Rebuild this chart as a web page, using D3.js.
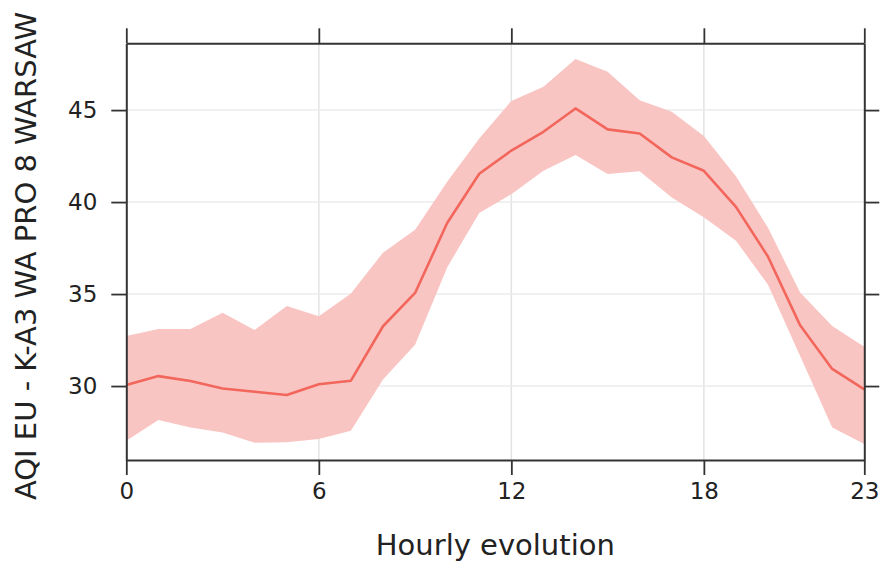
<!DOCTYPE html>
<html>
<head>
<meta charset="utf-8">
<script src="https://cdn.jsdelivr.net/npm/d3@7"></script>
<style>
  html, body { margin: 0; padding: 0; background: #fff; }
  svg { display: block; font-family: "DejaVu Sans", sans-serif; }
</style>
</head>
<body>
<svg id="chart" width="882" height="561"></svg>
<script>
const hours = d3.range(0, 24);
const meanValues = [30.05, 30.54, 30.27, 29.87, 29.69, 29.51, 30.1, 30.29, 33.25, 35.06,
                    38.86, 41.54, 42.8, 43.82, 45.09, 43.95, 43.73, 42.43, 41.7, 39.74,
                    37.03, 33.3, 30.93, 29.82];
const upperValues = [32.72, 33.1, 33.1, 33.98, 33.04, 34.35, 33.8, 35.03, 37.25, 38.5,
                     41.1, 43.46, 45.5, 46.27, 47.77, 47.08, 45.54, 44.91, 43.59, 41.4,
                     38.6, 35.08, 33.26, 32.14];
const lowerValues = [27.03, 28.15, 27.74, 27.47, 26.92, 26.94, 27.12, 27.57, 30.35, 32.25,
                     36.45, 39.41, 40.43, 41.7, 42.56, 41.52, 41.67, 40.25, 39.17, 37.9,
                     35.5, 31.63, 27.75, 26.85];
const xTicks = [0, 6, 12, 18, 23];
const yTicks = [30, 35, 40, 45];
const xTitle = "Hourly evolution";
const yTitle = "AQI EU - K-A3 WA PRO 8 WARSAW";

const rows = hours.map((h, i) => ({ h, mean: meanValues[i], lo: lowerValues[i], hi: upperValues[i] }));

const margin = { left: 126.3, right: 882 - 864.3, top: 43.3, bottom: 561 - 460 };
const W = 882, H = 561;
const svg = d3.select("#chart");

const x = d3.scaleLinear().domain([0, 23]).range([margin.left, W - margin.right]);
const y = d3.scaleLinear().domain([25.98, 48.63]).range([H - margin.bottom, margin.top]);

// grid
const grid = svg.append("g");
grid.selectAll("line.vx").data(xTicks.slice(1, -1)).join("line")
  .attr("x1", d => x(d)).attr("x2", d => x(d))
  .attr("y1", y.range()[1]).attr("y2", y.range()[0])
  .attr("stroke", "#e3e3e3").attr("stroke-width", 1.5);
grid.selectAll("line.hy").data(yTicks).join("line")
  .attr("y1", d => y(d)).attr("y2", d => y(d))
  .attr("x1", x.range()[0]).attr("x2", x.range()[1])
  .attr("stroke", "#ebebeb").attr("stroke-width", 1.5);

// band
svg.append("path").datum(rows)
  .attr("fill", "#f9c5c3")
  .attr("d", d3.area().x(d => x(d.h)).y0(d => y(d.lo)).y1(d => y(d.hi)));

// line
svg.append("path").datum(rows)
  .attr("fill", "none").attr("stroke", "#f2665c").attr("stroke-width", 2.6)
  .attr("stroke-linejoin", "round")
  .attr("d", d3.line().x(d => x(d.h)).y(d => y(d.mean)));

// axes
const tickLen = 15;
const axisStyle = g => {
  g.selectAll(".domain").attr("stroke", "#333").attr("stroke-width", 2);
  g.selectAll(".tick line").attr("stroke", "#333").attr("stroke-width", 1.8);
  g.selectAll(".tick text").attr("fill", "#222").style("font-size", "23px")
    .style("font-family", "'DejaVu Sans', sans-serif");
};

svg.append("g").attr("transform", `translate(0,${y.range()[0]})`)
  .call(d3.axisBottom(x).tickValues(xTicks).tickSizeInner(tickLen).tickSizeOuter(0).tickPadding(8))
  .call(axisStyle);
svg.append("g").attr("transform", `translate(0,${y.range()[1]})`)
  .call(d3.axisTop(x).tickValues(xTicks).tickSizeInner(tickLen).tickSizeOuter(0).tickFormat(""))
  .call(axisStyle);
svg.append("g").attr("transform", `translate(${x.range()[0]},0)`)
  .call(d3.axisLeft(y).tickValues(yTicks).tickSizeInner(tickLen).tickSizeOuter(0).tickPadding(14))
  .call(axisStyle);
svg.append("g").attr("transform", `translate(${x.range()[1]},0)`)
  .call(d3.axisRight(y).tickValues(yTicks).tickSizeInner(tickLen).tickSizeOuter(0).tickFormat(""))
  .call(axisStyle);

// titles
svg.append("text")
  .attr("x", (x.range()[0] + x.range()[1]) / 2).attr("y", 555)
  .attr("text-anchor", "middle").attr("fill", "#222")
  .style("font-size", "29px").text(xTitle);
svg.append("text")
  .attr("transform", "translate(36,256) rotate(-90)")
  .attr("text-anchor", "middle").attr("fill", "#222")
  .style("font-size", "29px").text(yTitle);
</script>
</body>
</html>
